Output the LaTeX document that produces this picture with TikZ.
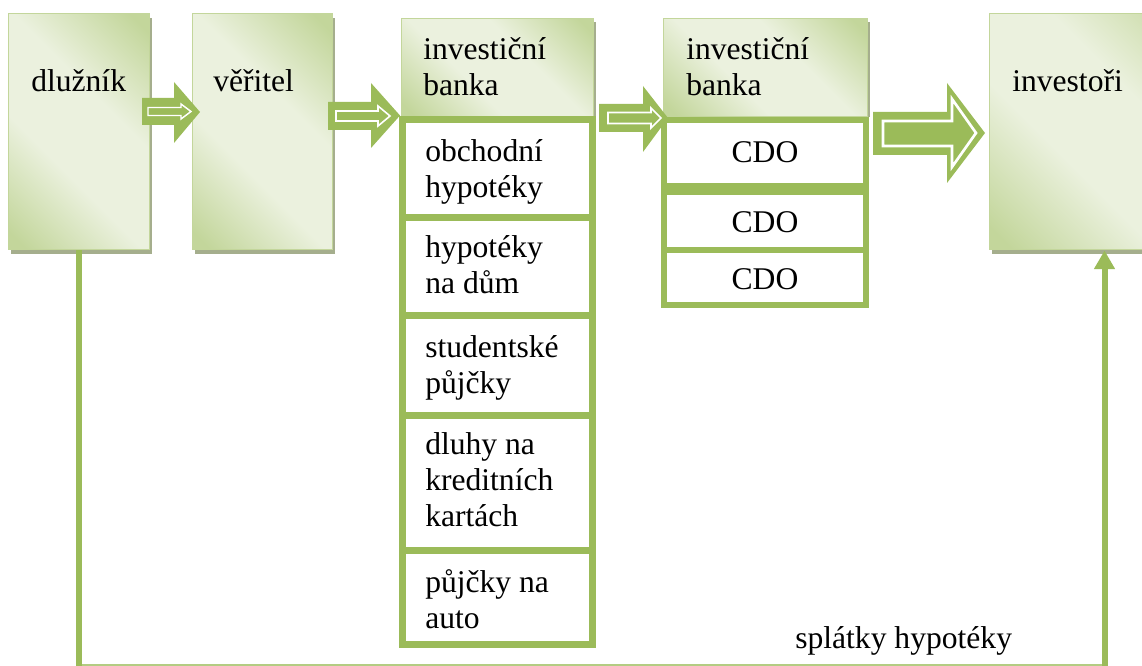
\documentclass[tikz,border=0pt]{standalone}
\usepackage{fontspec}
\setmainfont{Liberation Serif}
\usetikzlibrary{fit,arrows.meta}
\definecolor{gD}{HTML}{C3D69B}
\definecolor{gL}{HTML}{EBF1DE}
\definecolor{gG}{HTML}{9BBB59}
\definecolor{gS}{HTML}{A5AE8D}
\definecolor{gH}{HTML}{B3CC82}
\pgfdeclarehorizontalshading{gboxsh}{100bp}{color(0bp)=(gD); color(18bp)=(gD); color(40bp)=(gL); color(60bp)=(gL); color(82bp)=(gD); color(100bp)=(gD)}
\newcommand{\ml}[1]{\begin{tabular}[t]{@{}l@{}}#1\end{tabular}}
\begin{document}
\begin{tikzpicture}[x=0.75pt,y=-0.75pt,
  gbox/.style={inner sep=0pt, shade, shading=gboxsh, shading angle=45, draw=gD, line width=0.75pt},
  shadowbox/.style={fill=gS},
  cell/.style={inner sep=0pt, draw=gG, line width=5.25pt, fill=white},
  cdobox/.style={inner sep=0pt, draw=gG, line width=4.5pt, fill=white},
  txt/.style={inner sep=0pt, anchor=base west, font=\rmfamily\fontsize{23.7}{27}\selectfont},
  ctxt/.style={inner sep=0pt, anchor=base, font=\rmfamily\fontsize{23.7}{27}\selectfont},
  bout/.style={fill=gG},
  bin/.style={draw=white, fill=gG, line join=miter},
  vline/.style={draw=gG, line width=4.5pt},
  hline/.style={draw=gH, line width=1.5pt}]
\useasboundingbox (0,0) rectangle (1142,666);
\begin{scope}
\clip (0,0) rectangle (1142,666);
% shadows
\fill[shadowbox] (11,18) rectangle (152,254);
\fill[shadowbox] (195,18) rectangle (335,254);
\fill[shadowbox] (992,18) rectangle (1223,254);
\fill[shadowbox] (404,22) rectangle (596,117);
\fill[shadowbox] (666,22) rectangle (870,117);
% main boxes
\node[gbox, fit={(8,14) (149,250)}] (dl) {};
\node[gbox, fit={(192,14) (332,250)}] (ve) {};
\node[gbox, fit={(989,14) (1220,250)}] (inv) {};
\node[gbox, fit={(401,19) (593,117)}] (ib1) {};
\node[gbox, fit={(663,19) (867,117)}] (ib2) {};
% list cells
\node[cell, fit={(402,120) (592,218)}] (c1) {};
\node[cell, fit={(402,218) (592,316)}] (c2) {};
\node[cell, fit={(402,316) (592,415)}] (c3) {};
\node[cell, fit={(402,415) (592,550)}] (c4) {};
\node[cell, fit={(402,550) (592,644)}] (c5) {};
% CDO cells
\node[cdobox, fit={(664,120) (866,186)}] (d1) {};
\node[cdobox, fit={(664,192) (866,250)}] (d2) {};
\node[cdobox, fit={(664,250) (866,305)}] (d3) {};
% block arrows
\fill[bout] (142,98) -- (174,98) -- (174,82) -- (200,112) -- (174,143) -- (174,125) -- (142,125) -- cycle;
\draw[bin, line width=1.1pt] (148,107.5) -- (181,107.5) -- (181,104) -- (191,111.5) -- (181,119) -- (181,115.5) -- (148,115.5) -- cycle;
\fill[bout] (328,102) -- (371,102) -- (371,83) -- (400,115.5) -- (371,148) -- (371,130) -- (328,130) -- cycle;
\draw[bin, line width=1.2pt] (336,111) -- (378,111) -- (378,106) -- (390,116) -- (378,126) -- (378,121) -- (336,121) -- cycle;
\fill[bout] (599,104) -- (643,104) -- (643,86) -- (668,118) -- (643,152) -- (643,132) -- (599,132) -- cycle;
\draw[bin, line width=1.3pt] (608,112.5) -- (651,112.5) -- (651,108) -- (661,118) -- (651,128) -- (651,123.5) -- (608,123.5) -- cycle;
\fill[bout] (873,112) -- (947,112) -- (947,83) -- (985,133) -- (947,183) -- (947,155) -- (873,155) -- cycle;
\draw[bin, line width=2pt] (883,121) -- (952,121) -- (952,99) -- (976,133) -- (952,167) -- (952,146) -- (883,146) -- cycle;
\end{scope}
% texts
\node[txt] (tdl) at (31,92) {dlužník};
\node[txt] (tve) at (213,92) {věřitel};
\node[txt] (tinv) at (1012,92) {investoři};
\node[txt] (tib1) at (423,60) {\ml{investiční\\banka}};
\node[txt] (tib2) at (686,60) {\ml{investiční\\banka}};
\node[txt] (tc1) at (425,162) {\ml{obchodní\\hypotéky}};
\node[txt] (tc2) at (425,258) {\ml{hypotéky\\na dům}};
\node[txt] (tc3) at (425,358) {\ml{studentské\\půjčky}};
\node[txt] (tc4) at (425,455) {\ml{dluhy na\\kreditních\\kartách}};
\node[txt] (tc5) at (425,592) {\ml{půjčky na\\auto}};
\node[ctxt] (td1) at (765,163) {CDO};
\node[ctxt] (td2) at (765,233) {CDO};
\node[ctxt] (td3) at (765,290) {CDO};
\node[txt] (tspl) at (795,648) {splátky hypotéky};
% return connector
\coordinate (cl) at (78.5,666);
\coordinate (cr) at (1104.5,666);
\coordinate (hl) at (78.5,665);
\coordinate (hr) at (1104.5,665);
\draw[hline] (hl) -- (hr);
\draw[vline] (dl.south) -- (cl);
\draw[vline, -{Triangle[width=15pt,length=14pt]}] (cr) -- (inv.south);
\end{tikzpicture}
\end{document}
